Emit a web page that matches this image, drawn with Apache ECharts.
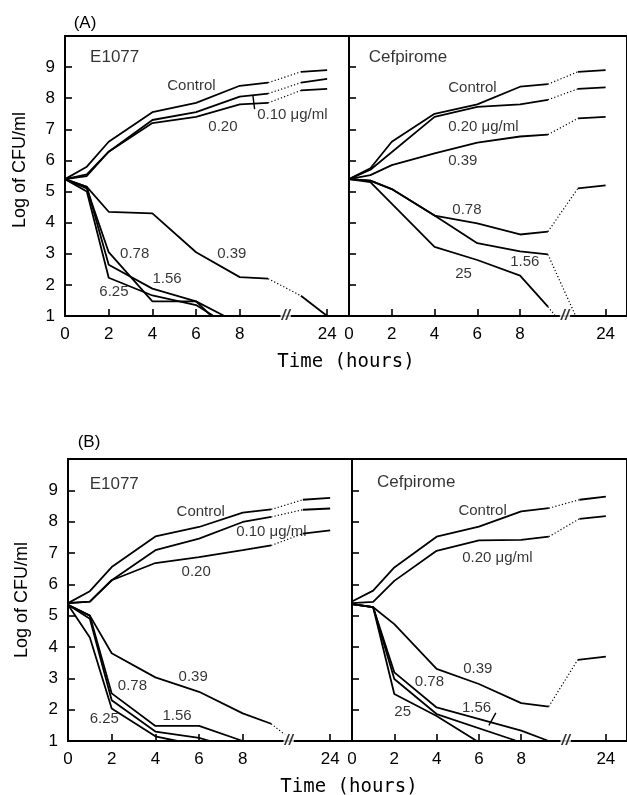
<!DOCTYPE html>
<html><head><meta charset="utf-8">
<script src="https://cdn.jsdelivr.net/npm/echarts@6/dist/echarts.min.js"></script>
<style>html,body{margin:0;padding:0;background:#fff}#c{width:627px;height:795px}</style>
</head><body><div id="c"></div>
<script>
// ---- axis ticks (plot hours; 12 on the axis stands for 24 h after the break) ----
const xTicks = [0, 2, 4, 6, 8, 12];
const xTickLabels = ['0', '2', '4', '6', '8', '24'];
const yTicks = [1, 2, 3, 4, 5, 6, 7, 8, 9];
const breakAt = 10.1;

// ---- (A) E1077 ----
const aE_control = [[0,5.4],[1,5.8],[2,6.6],[4,7.55],[6,7.85],[8,8.4],[9.3,8.5]];
const aE_control_late = [[10.8,8.85],[12,8.9]];
const aE_010 = [[0,5.4],[1,5.55],[2,6.28],[4,7.3],[6,7.55],[8,8.05],[9.3,8.15]];
const aE_010_late = [[10.8,8.5],[12,8.62]];
const aE_020 = [[0,5.4],[1,5.5],[2,6.28],[4,7.2],[6,7.4],[8,7.8],[9.3,7.85]];
const aE_020_late = [[10.8,8.25],[12,8.3]];
const aE_039 = [[0,5.4],[1,5.15],[2,4.35],[4,4.3],[6,3.05],[8,2.25],[9.3,2.2]];
const aE_039_late = [[10.8,1.65],[12,1.0]];
const aE_078 = [[0,5.4],[1,5.1],[2,3.05],[4,1.47],[6,1.47],[6.7,1.0]];
const aE_156 = [[0,5.4],[1,5.15],[2,2.65],[4,1.88],[6,1.47],[7.3,1.0]];
const aE_625 = [[0,5.4],[1,5.0],[2,2.23],[4,1.66],[6,1.35],[6.8,1.0]];
const aE_labels = [[4.68,8.4,'Control'],[6.56,7.08,'0.20'],[8.8,7.46,'0.10 μg/ml'],[6.97,3.0,'0.39'],[2.52,3.0,'0.78'],[4.0,2.19,'1.56'],[1.57,1.77,'6.25']];
const aE_pointer = [[8.6,8.1],[8.68,7.65]];

// ---- (A) Cefpirome ----
const aC_control = [[0,5.4],[1,5.75],[2,6.6],[4,7.5],[6,7.8],[8,8.37],[9.3,8.45]];
const aC_control_late = [[10.7,8.85],[12,8.9]];
const aC_020 = [[0,5.4],[1,5.7],[4,7.4],[6,7.72],[8,7.8],[9.3,7.95]];
const aC_020_late = [[10.7,8.3],[12,8.35]];
const aC_039 = [[0,5.4],[1,5.53],[2,5.85],[4,6.23],[6,6.57],[8,6.77],[9.3,6.83]];
const aC_039_late = [[10.7,7.35],[12,7.4]];
const aC_078 = [[0,5.4],[1,5.35],[2,5.08],[4,4.23],[6,3.98],[8,3.62],[9.3,3.71]];
const aC_078_late = [[10.7,5.1],[12,5.2]];
const aC_156 = [[0,5.4],[1,5.35],[2,5.08],[4,4.23],[6,3.34],[8,3.08],[9.3,2.98]];
const aC_156_late = [[10.6,1.0]];
const aC_25 = [[0,5.4],[1,5.3],[4,3.22],[6,2.8],[8,2.3],[9.3,1.3]];
const aC_25_late = [[9.65,1.0]];
const aC_labels = [[4.64,8.33,'Control'],[4.64,7.08,'0.20 μg/ml'],[4.64,5.98,'0.39'],[4.83,4.42,'0.78'],[7.54,2.74,'1.56'],[4.97,2.35,'25']];

// ---- (B) E1077 ----
const bE_control = [[0,5.4],[1,5.78],[2,6.55],[4,7.53],[6,7.83],[8,8.29],[9.3,8.39]];
const bE_control_late = [[10.75,8.7],[12,8.76]];
const bE_010 = [[0,5.4],[1,5.45],[2,6.13],[4,7.09],[6,7.46],[8,7.99],[9.3,8.15]];
const bE_010_late = [[10.75,8.38],[12,8.42]];
const bE_020 = [[0,5.4],[1,5.45],[2,6.13],[4,6.68],[6,6.87],[8,7.09],[9.3,7.24]];
const bE_020_late = [[10.75,7.62],[12,7.72]];
const bE_039 = [[0,5.35],[1,5.0],[2,3.8],[4,3.03],[6,2.57],[8,1.88],[9.3,1.55]];
const bE_039_late = [[10.3,1.0]];
const bE_078 = [[0,5.35],[1,4.9],[2,2.3],[4,1.3],[6,1.1],[6.5,1.0]];
const bE_156 = [[0,5.35],[1,5.0],[2,2.52],[4,1.48],[6,1.48],[8,1.0]];
const bE_625 = [[0,5.35],[1,4.3],[2,2.04],[4,1.15],[5,1.0]];
const bE_labels = [[4.97,8.3,'Control'],[7.7,7.69,'0.10 μg/ml'],[5.2,6.41,'0.20'],[5.06,3.04,'0.39'],[2.28,2.75,'0.78'],[4.32,1.8,'1.56'],[0.99,1.7,'6.25']];

// ---- (B) Cefpirome ----
const bC_control = [[0,5.45],[1,5.8],[2,6.54],[4,7.52],[6,7.84],[8,8.33],[9.3,8.43]];
const bC_control_late = [[10.75,8.7],[12,8.8]];
const bC_020 = [[0,5.4],[1,5.44],[2,6.11],[4,7.07],[6,7.4],[8,7.42],[9.3,7.52]];
const bC_020_late = [[10.75,8.09],[12,8.18]];
const bC_039 = [[0,5.37],[1,5.27],[2,4.73],[4,3.3],[6,2.82],[8,2.21],[9.3,2.1]];
const bC_039_late = [[10.67,3.59],[12,3.69]];
const bC_078 = [[0,5.37],[1,5.27],[2,2.98],[4,1.86],[7.8,1.0]];
const bC_156 = [[0,5.37],[1,5.27],[2,3.19],[4,2.07],[8,1.33],[9.3,1.0]];
const bC_25 = [[0,5.37],[1,5.27],[2,2.5],[4,1.8],[5.9,1.0]];
const bC_labels = [[5.03,8.33,'Control'],[5.21,6.86,'0.20 μg/ml'],[5.26,3.29,'0.39'],[2.97,2.88,'0.78'],[5.2,2.05,'1.56'],[2.0,1.92,'25']];
const bC_pointer = [[6.47,1.5],[6.8,1.9]];

const panelTitles = [[1.15,9.3,'E1077'],[0.92,9.3,'Cefpirome'],[0.99,9.2,'E1077'],[1.18,9.25,'Cefpirome']];

// ---- build ----
const FONT = '"Liberation Sans", Arial, sans-serif';
const grids = [
  {left: 65, top: 36, width: 284, height: 280},
  {left: 349, top: 36, width: 284, height: 280},
  {left: 68, top: 459, width: 284, height: 282},
  {left: 352, top: 459, width: 284, height: 282}
];
const xAxes = grids.map((g, i) => ({
  gridIndex: i, type: 'value', min: 0, max: 13,
  axisLine: {show: false},
  splitLine: {show: false},
  axisTick: {inside: true, length: 7, customValues: xTicks, lineStyle: {color: '#000', width: 1.6}},
  axisLabel: {customValues: xTicks, margin: 10, color: '#000', fontFamily: FONT, fontSize: 17,
    formatter: v => xTickLabels[xTicks.indexOf(v)] ?? ''}
}));
const yAxes = grids.map((g, i) => ({
  gridIndex: i, type: 'value', min: 1, max: 10,
  axisLine: {show: false},
  splitLine: {show: false},
  axisTick: {inside: true, length: 7, customValues: yTicks, lineStyle: {color: '#000', width: 1.6}},
  axisLabel: {show: i % 2 === 0, customValues: yTicks, margin: 10, color: '#000', fontFamily: FONT, fontSize: 17}
}));

const series = [];
const LINE = {color: '#000', width: 1.8};
function curve(gi, main, late) {
  series.push({type: 'line', xAxisIndex: gi, yAxisIndex: gi, data: main, symbol: 'none',
    lineStyle: LINE, silent: true, animation: false, z: 3});
  if (late && late.length) {
    series.push({type: 'line', xAxisIndex: gi, yAxisIndex: gi, data: [main[main.length - 1], late[0]],
      symbol: 'none', lineStyle: {color: '#000', width: 1.2, type: [1.2, 2.2]}, silent: true, animation: false, z: 3});
    if (late.length > 1) {
      series.push({type: 'line', xAxisIndex: gi, yAxisIndex: gi, data: late, symbol: 'none',
        lineStyle: LINE, silent: true, animation: false, z: 3});
    }
  }
}
function texts(gi, arr, size) {
  series.push({type: 'scatter', xAxisIndex: gi, yAxisIndex: gi, data: arr, symbolSize: 0,
    silent: true, animation: false, z: 5,
    label: {show: true, position: 'right', distance: 0, formatter: p => p.data[2],
      color: '#000', fontFamily: FONT, fontSize: size}});
}
function pointer(gi, seg) {
  series.push({type: 'line', xAxisIndex: gi, yAxisIndex: gi, data: seg, symbol: 'none',
    lineStyle: {color: '#000', width: 1.4}, silent: true, animation: false, z: 4});
}
function breakMark(gi) {
  series.push({type: 'scatter', xAxisIndex: gi, yAxisIndex: gi, data: [[breakAt, 1, '//']], symbolSize: 0,
    silent: true, animation: false, z: 10, clip: false,
    label: {show: true, position: 'inside', formatter: '//', color: '#000', fontFamily: FONT,
      fontSize: 15, fontWeight: 'bold', fontStyle: 'italic', backgroundColor: '#fff', padding: [0, 1]}});
}

curve(0, aE_control, aE_control_late); curve(0, aE_010, aE_010_late); curve(0, aE_020, aE_020_late);
curve(0, aE_039, aE_039_late); curve(0, aE_078); curve(0, aE_156); curve(0, aE_625);
texts(0, aE_labels, 15); pointer(0, aE_pointer); breakMark(0);

curve(1, aC_control, aC_control_late); curve(1, aC_020, aC_020_late); curve(1, aC_039, aC_039_late);
curve(1, aC_078, aC_078_late); curve(1, aC_156, aC_156_late); curve(1, aC_25, aC_25_late);
texts(1, aC_labels, 15); breakMark(1);

curve(2, bE_control, bE_control_late); curve(2, bE_010, bE_010_late); curve(2, bE_020, bE_020_late);
curve(2, bE_039, bE_039_late); curve(2, bE_078); curve(2, bE_156); curve(2, bE_625);
texts(2, bE_labels, 15); breakMark(2);

curve(3, bC_control, bC_control_late); curve(3, bC_020, bC_020_late); curve(3, bC_039, bC_039_late);
curve(3, bC_078); curve(3, bC_156); curve(3, bC_25);
texts(3, bC_labels, 15); pointer(3, bC_pointer); breakMark(3);

panelTitles.forEach((t, i) => texts(i, [t], 17));

const chart = echarts.init(document.getElementById('c'), null, {renderer: 'canvas'});
chart.setOption({
  animation: false,
  backgroundColor: '#fff',
  grid: grids.map(g => Object.assign({show: true, borderColor: '#000', borderWidth: 2, backgroundColor: 'transparent'}, g)),
  xAxis: xAxes,
  yAxis: yAxes,
  series: series,
  graphic: [
    {type: 'text', x: 85, y: 23, style: {text: '(A)', font: '17px ' + FONT, fill: '#000', align: 'center', verticalAlign: 'middle'}},
    {type: 'text', x: 89, y: 442, style: {text: '(B)', font: '17px ' + FONT, fill: '#000', align: 'center', verticalAlign: 'middle'}},
    {type: 'text', x: 20, y: 170, rotation: Math.PI / 2, style: {text: 'Log of CFU/ml', font: '18px ' + FONT, fill: '#000', align: 'center', verticalAlign: 'middle'}},
    {type: 'text', x: 22, y: 600, rotation: Math.PI / 2, style: {text: 'Log of CFU/ml', font: '18px ' + FONT, fill: '#000', align: 'center', verticalAlign: 'middle'}},
    {type: 'text', x: 346, y: 362, style: {text: 'Time (hours)', font: '19px "DejaVu Sans Mono", monospace', fill: '#000', align: 'center', verticalAlign: 'middle'}},
    {type: 'text', x: 349, y: 787, style: {text: 'Time (hours)', font: '19px "DejaVu Sans Mono", monospace', fill: '#000', align: 'center', verticalAlign: 'middle'}}
  ]
});
</script>
</body></html>
